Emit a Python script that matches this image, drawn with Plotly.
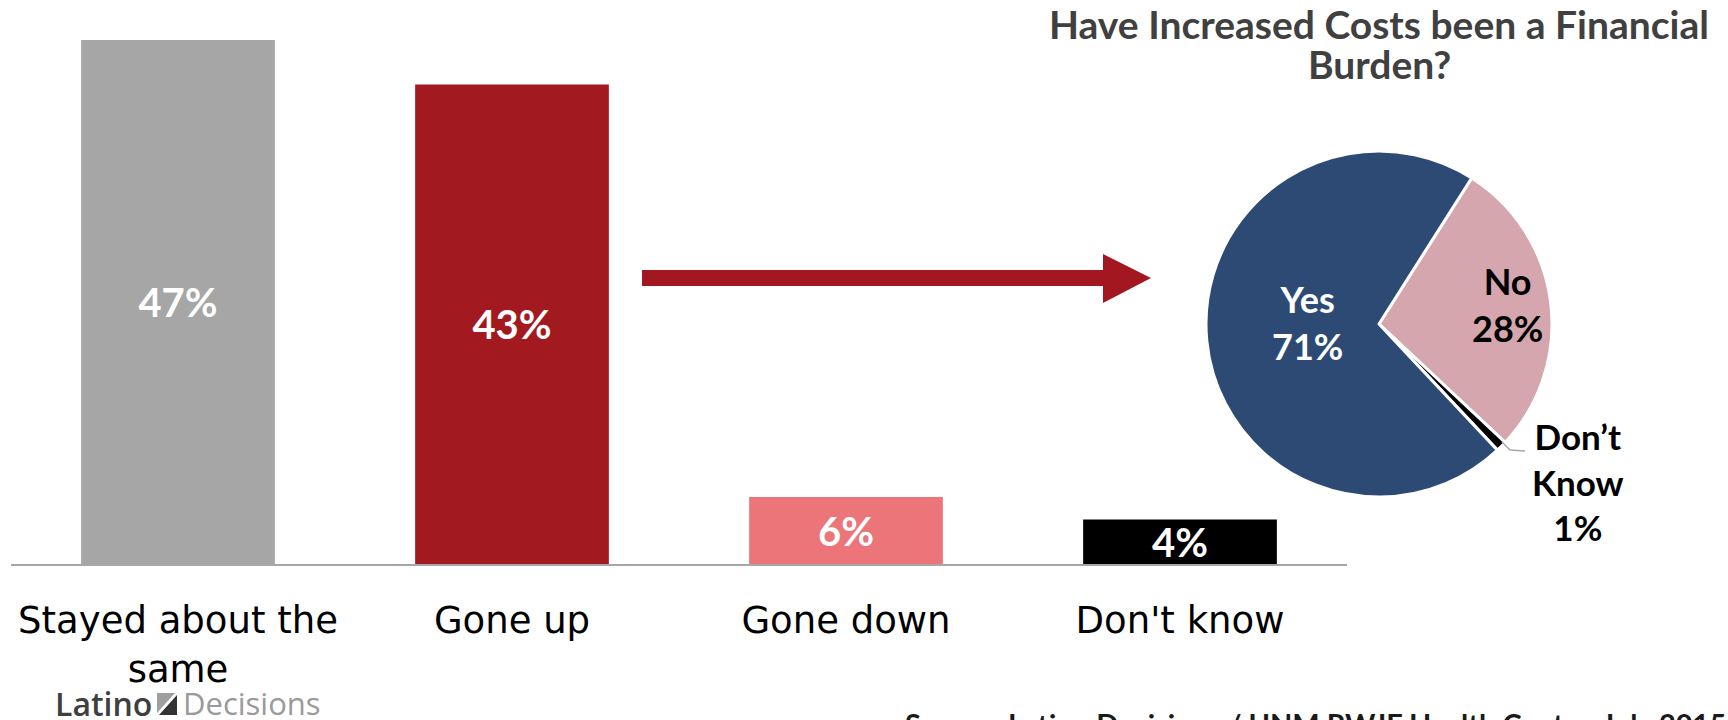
import plotly.graph_objects as go

# Survey answers: how have costs changed
categories = ["Stayed about the<br>same", "Gone up", "Gone down", "Don't know"]
shares = [47, 43, 6, 4]
bar_colors = ["#A6A6A6", "#A31920", "#EC757A", "#000000"]

# Follow-up among those whose costs went up
pie_labels = ["No", "Don’t Know", "Yes"]
pie_values = [28, 1, 71]
pie_colors = ["#D5A6AE", "#000000", "#2D4A74"]
pie_text_colors = ["#000000", "#000000", "#FFFFFF"]

title_lines = ["Have Increased Costs been a Financial", "Burden?"]
source_text = "Source: Latino Decisions / UNM RWJF Health Center, July 2015"

W, H = 1728, 720


def px(x):
    return x / W


def py(y):
    return 1 - y / H


fig = go.Figure()

fig.add_trace(go.Bar(
    x=categories,
    y=shares,
    marker=dict(color=bar_colors, line=dict(width=0)),
    text=[f"{v}%" for v in shares],
    textposition="inside",
    insidetextanchor="middle",
    constraintext="none",
    textfont=dict(family="Lato", size=40, color="#FFFFFF", weight="bold"),
    hoverinfo="skip",
    showlegend=False,
))

fig.add_trace(go.Pie(
    labels=pie_labels,
    values=pie_values,
    sort=False,
    direction="clockwise",
    rotation=32.4,
    marker=dict(colors=pie_colors, line=dict(color="#FFFFFF", width=3)),
    textinfo="none",
    hoverinfo="skip",
    showlegend=False,
    domain=dict(x=[px(1206), px(1552)], y=[py(497), py(151)]),
))

annotations = []

# Slice labels, placed inside (Yes, No) and beside the thin slice (Don't Know)
slice_label_pos = {
    "Yes": (1307, 322, 36),
    "No": (1507, 304, 36),
    "Don’t Know": (1578, 482, 35),
}
for lab, val, col in zip(pie_labels, pie_values, pie_text_colors):
    x, y, size = slice_label_pos[lab]
    txt = lab.replace(" ", "<br>") + f"<br>{val}%"
    annotations.append(dict(
        x=px(x), y=py(y), xref="paper", yref="paper",
        xanchor="center", yanchor="middle", showarrow=False,
        text=txt, align="center",
        font=dict(family="Lato", size=size, color=col, weight="bold"),
    ))

# Title, two lines with tight spacing
for line, yc in zip(title_lines, [24, 64]):
    annotations.append(dict(
        x=px(1379), y=py(yc), xref="paper", yref="paper",
        xanchor="center", yanchor="middle", showarrow=False,
        text=line,
        font=dict(family="Lato", size=39, color="#404040", weight="bold"),
    ))

# Logo wordmark
annotations.append(dict(
    x=px(53), y=py(703), xref="paper", yref="paper",
    xanchor="left", yanchor="middle", showarrow=False,
    text="Latino", font=dict(family="Open Sans", size=32, color="#3F3F3F", weight=600),
))
annotations.append(dict(
    x=px(181), y=py(703), xref="paper", yref="paper",
    xanchor="left", yanchor="middle", showarrow=False,
    text="Decisions", font=dict(family="Open Sans", size=31, color="#9A9A9A"),
))

# Source line along the bottom edge
annotations.append(dict(
    x=px(903), y=py(723), xref="paper", yref="paper",
    xanchor="left", yanchor="middle", showarrow=False,
    text=source_text, font=dict(family="Lato", size=29, color="#1A1A1A", weight="bold"),
))


def poly(points):
    d = "M " + " L ".join(f"{px(x)},{py(y)}" for x, y in points) + " Z"
    return d


shapes = [
    # Arrow pointing from the bars to the pie
    dict(type="path", xref="paper", yref="paper",
         path=poly([(642, 270), (1103, 270), (1103, 254), (1151, 278),
                    (1103, 303), (1103, 286), (642, 286)]),
         fillcolor="#A31820", line=dict(width=0)),
    # Leader line for the small slice
    dict(type="path", xref="paper", yref="paper",
         path=f"M {px(1502)},{py(442)} L {px(1510)},{py(450)} L {px(1525)},{py(451)}",
         line=dict(color="#A6A6A6", width=1.5)),
    # Logo mark: split square
    dict(type="path", xref="paper", yref="paper",
         path=poly([(157, 693), (175, 693), (157, 713)]),
         fillcolor="#A0A0A0", line=dict(width=0)),
    dict(type="path", xref="paper", yref="paper",
         path=poly([(177, 695), (177, 715), (159, 715)]),
         fillcolor="#333333", line=dict(width=0)),
]

fig.update_layout(
    width=W, height=H,
    margin=dict(l=0, r=0, t=0, b=0),
    paper_bgcolor="#FFFFFF",
    plot_bgcolor="#FFFFFF",
    bargap=0.42,
    uniformtext=dict(mode="show", minsize=10),
    xaxis=dict(
        domain=[px(11), px(1347)],
        showline=True, linecolor="#A6A6A6", linewidth=2,
        showgrid=False, zeroline=False, ticks="",
        ticklabelstandoff=23,
        tickfont=dict(family="DejaVu Sans", size=37, color="#000000"),
        fixedrange=True,
    ),
    yaxis=dict(
        domain=[py(564), py(20)],
        range=[0, 544 / 11.15],
        visible=False, showgrid=False, zeroline=False,
        fixedrange=True,
    ),
    annotations=annotations,
    shapes=shapes,
)

fig.write_html("out.html")
